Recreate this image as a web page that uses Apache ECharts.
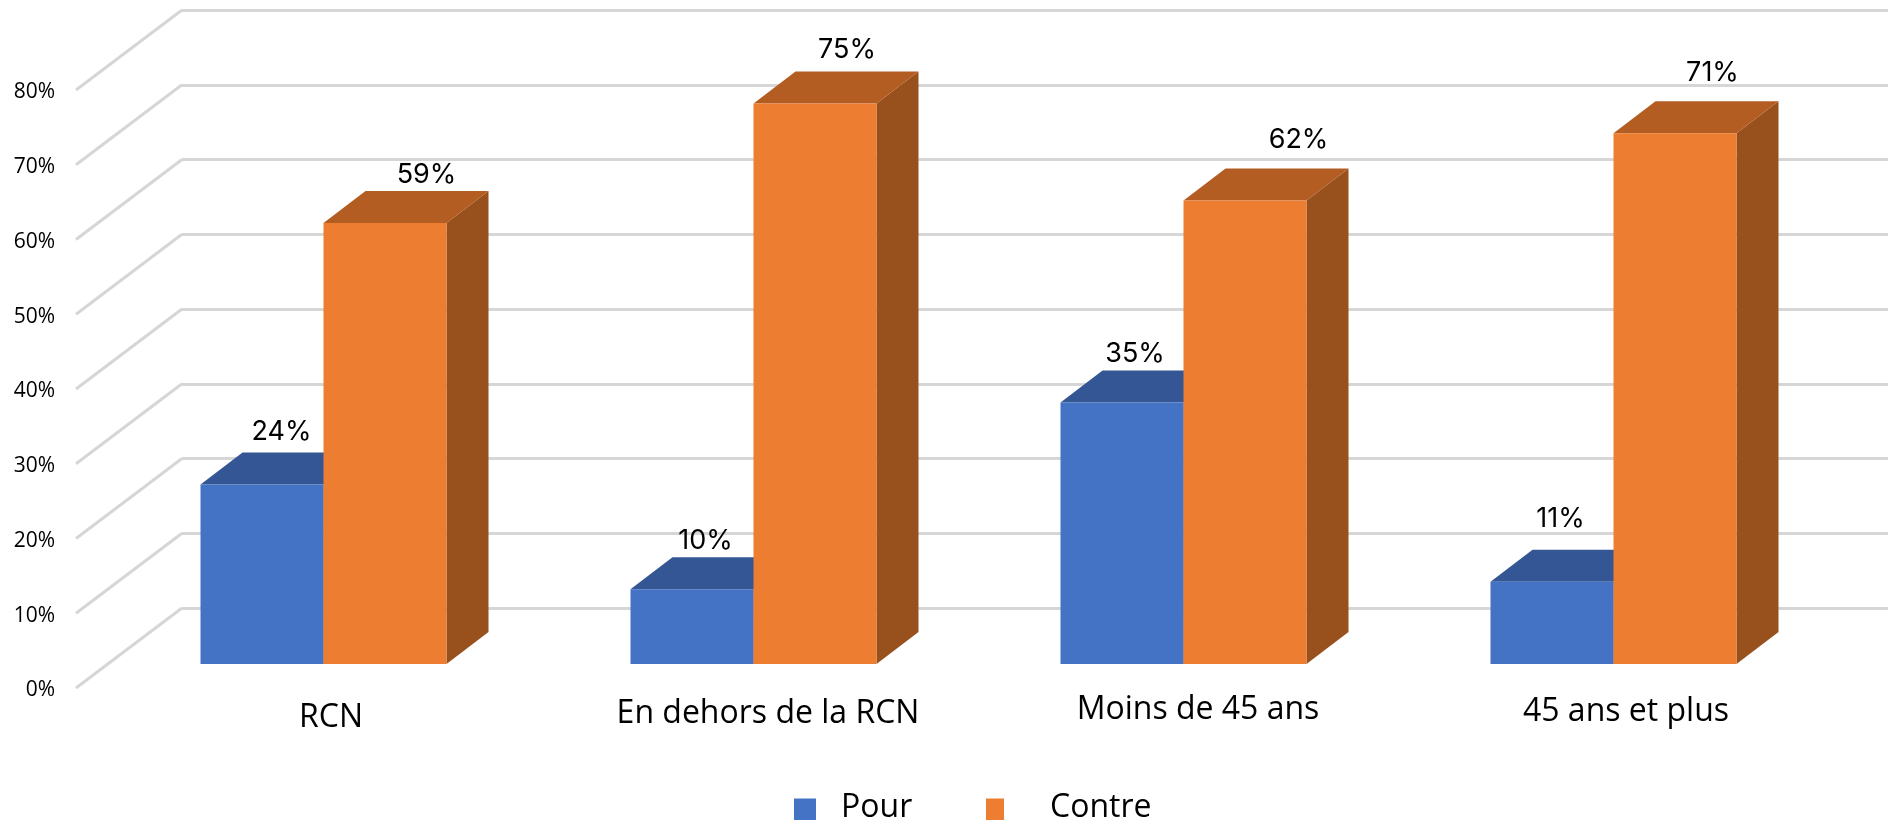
<!DOCTYPE html>
<html>
<head>
<meta charset="utf-8">
<style>
  html, body { margin: 0; padding: 0; background: #fff; }
  #chart { width: 1888px; height: 820px; }
</style>
<script src="https://cdn.jsdelivr.net/npm/echarts@6/dist/echarts.min.js"></script>
</head>
<body>
<div id="chart"></div>
<script>
const categories = ['RCN', 'En dehors de la RCN', 'Moins de 45 ans', '45 ans et plus'];
const pourValues = [24, 10, 35, 11];
const contreValues = [59, 75, 62, 71];
const yTicks = [0, 10, 20, 30, 40, 50, 60, 70, 80];

const LABEL_FONT = '"Open Sans", "Noto Sans", sans-serif';
const GRID_COLOR = '#D6D6D6';
// depth of the floor, seen from the back wall
const wallDepth = [-106, 80];
const barFront = [-73.5, 56];
const barBack = [-31.5, 24];
const barWidth = 123;

// the data labels were moved by hand in the original
const pourLabelShift = [[-1.5, -21], [-7.5, -16.5], [-8, -17], [-12.5, -31]];
const contreLabelShift = [[20.5, -16], [11, -21.5], [32.5, -29], [16.5, -28.5]];
// same for the category labels: [top padding, left padding]
const categoryPadding = [[9, 80], [5, 94], [1, 94], [3, 90]];

function poly(points, fill) {
  return { type: 'polygon', shape: { points: points }, style: { fill: fill } };
}

function barSeries(name, values, colors, side, labelShift) {
  return {
    name: name,
    type: 'custom',
    xAxisIndex: 0,
    yAxisIndex: 0,
    z: 3,
    itemStyle: { color: colors.front },
    encode: { x: 0, y: 1 },
    data: values.map((v, i) => [i, v]),
    renderItem: (params, api) => {
      const i = api.value(0);
      const v = api.value(1);
      const base = api.coord([i, 0]);
      const top = api.coord([i, v]);
      const x0 = base[0] + barFront[0] + (side < 0 ? -barWidth : 0);
      const x1 = x0 + barWidth;
      const yBottom = base[1] + barFront[1];
      const yTop = top[1] + barFront[1];
      const dx = barBack[0] - barFront[0];
      const dy = barBack[1] - barFront[1];
      const shift = labelShift[i];
      return {
        type: 'group',
        children: [
          poly([[x1, yTop], [x1 + dx, yTop + dy], [x1 + dx, yBottom + dy], [x1, yBottom]], colors.side),
          poly([[x0, yTop], [x0 + dx, yTop + dy], [x1 + dx, yTop + dy], [x1, yTop]], colors.top),
          poly([[x0, yTop], [x1, yTop], [x1, yBottom], [x0, yBottom]], colors.front),
          {
            type: 'text',
            z2: 10,
            style: {
              x: (x0 + x1) / 2 + dx / 2 + shift[0],
              y: yTop + dy + shift[1],
              text: v + '%',
              fill: '#000',
              font: '27px Inter, sans-serif',
              textAlign: 'center',
              textVerticalAlign: 'middle'
            }
          }
        ]
      };
    }
  };
}

const wallLines = {
  type: 'custom',
  xAxisIndex: 0,
  yAxisIndex: 0,
  silent: true,
  z: 1,
  data: yTicks.map(t => [0, t]),
  encode: { y: 1 },
  renderItem: (params, api) => {
    const y = api.coord([0, api.value(1)])[1];
    const x = params.coordSys.x;
    return {
      type: 'line',
      shape: { x1: x, y1: y, x2: x + wallDepth[0], y2: y + wallDepth[1] },
      style: { stroke: GRID_COLOR, lineWidth: 3 }
    };
  }
};

const hidden = { axisLine: { show: false }, axisTick: { show: false }, splitLine: { show: false } };

function legendText(leftPad) {
  return {
    rich: {
      t: { fontFamily: LABEL_FONT, fontSize: 32, color: '#000', padding: [0, 0, 6, leftPad] }
    }
  };
}

const options = {
  backgroundColor: '#fff',
  animation: false,
  grid: [
    // back wall
    { left: 182, top: 10, width: 1720, height: 598, outerBoundsMode: 'none' },
    // front edge of the floor, only carries the axis labels
    { left: 76, top: 92.5, width: 1720, height: 598, outerBoundsMode: 'none' }
  ],
  xAxis: [
    { gridIndex: 0, type: 'category', data: categories, axisLabel: { show: false }, ...hidden },
    {
      gridIndex: 1,
      type: 'category',
      data: categories.map((c, i) => ({
        value: c,
        textStyle: { padding: [categoryPadding[i][0], 0, 0, categoryPadding[i][1]] }
      })),
      axisLabel: {
        interval: 0,
        hideOverlap: false,
        margin: -1.5,
        color: '#000',
        fontFamily: LABEL_FONT,
        fontSize: 32,
        lineHeight: 40,
        width: 500,
        overflow: 'none'
      },
      ...hidden
    }
  ],
  yAxis: [
    {
      gridIndex: 0,
      type: 'value',
      min: 0,
      max: 80,
      interval: 10,
      axisLabel: { show: false },
      axisLine: { show: false },
      axisTick: { show: false },
      splitLine: { show: true, lineStyle: { color: GRID_COLOR, width: 3 } }
    },
    {
      gridIndex: 1,
      type: 'value',
      min: 0,
      max: 80,
      interval: 10,
      axisLabel: {
        formatter: '{value}%',
        margin: 21,
        color: '#000',
        fontFamily: LABEL_FONT,
        fontSize: 21
      },
      ...hidden
    }
  ],
  legend: [
    {
      data: ['Pour'],
      left: 794,
      top: 792,
      icon: 'rect',
      itemWidth: 22,
      itemHeight: 25,
      padding: 0,
      formatter: '{t|{name}}',
      textStyle: legendText(20)
    },
    {
      data: ['Contre'],
      left: 986,
      top: 792,
      icon: 'rect',
      itemWidth: 18,
      itemHeight: 25,
      padding: 0,
      formatter: '{t|{name}}',
      textStyle: legendText(41)
    }
  ],
  series: [
    wallLines,
    barSeries('Pour', pourValues, { front: '#4472C4', top: '#345694', side: '#2F5597' }, -1, pourLabelShift),
    barSeries('Contre', contreValues, { front: '#ED7D31', top: '#B45D22', side: '#98501C' }, 1, contreLabelShift)
  ]
};

const myChart = echarts.init(document.getElementById('chart'), null, { renderer: 'canvas' });
myChart.setOption(options);
</script>
</body>
</html>
